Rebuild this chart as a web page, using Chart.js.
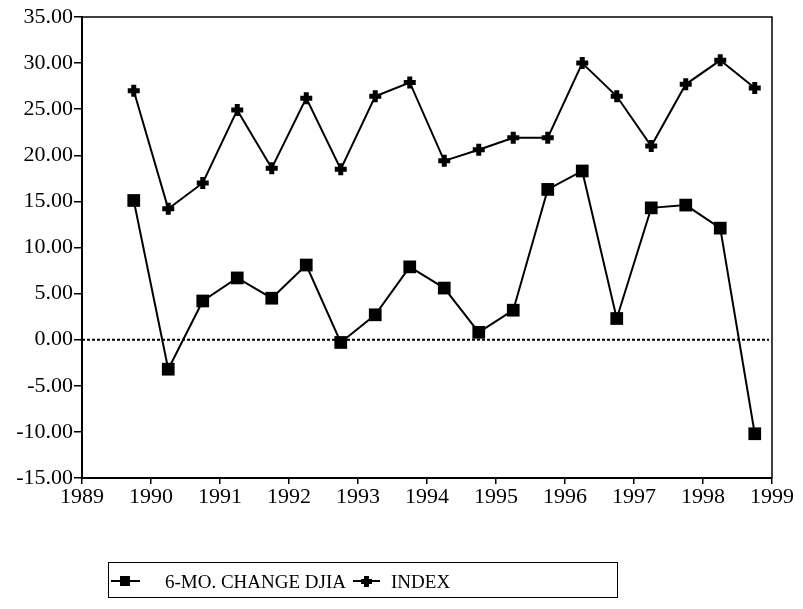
<!DOCTYPE html>
<html>
<head>
<meta charset="utf-8">
<script src="https://cdn.jsdelivr.net/npm/chart.js@4/dist/chart.umd.min.js"></script>
<style>
  html, body { margin: 0; padding: 0; background: #fff; }
  #wrap { position: relative; width: 803px; height: 609px; }
  #legend {
    position: absolute; left: 108px; top: 562px; width: 508px; height: 34px;
    border: 1.5px solid #000; font-family: "Liberation Serif", "DejaVu Serif", serif;
    font-size: 19px; color: #000;
  }
  #legend .item { position: absolute; top: 0; height: 34px; line-height: 37px; white-space: nowrap; }
  #legend svg { position: absolute; top: 10px; }
</style>
</head>
<body>
<div id="wrap">
  <canvas id="chart" width="803" height="609"></canvas>
  <div id="legend">
    <svg style="left:2px" width="30" height="16"><line x1="0" y1="8" x2="29" y2="8" stroke="#000" stroke-width="2"/><rect x="9" y="3" width="10" height="10" fill="#000"/></svg>
    <span class="item" style="left:56px">6-MO. CHANGE DJIA</span>
    <svg style="left:244px" width="28" height="16"><line x1="0" y1="8" x2="27" y2="8" stroke="#000" stroke-width="2"/><path d="M11 3h5v3h3v5h-3v3h-5v-3h-3v-5h3z" fill="#000"/></svg>
    <span class="item" style="left:282px">INDEX</span>
  </div>
</div>
<script>
// half-year observation dates
const dates = [1989.75, 1990.25, 1990.75, 1991.25, 1991.75, 1992.25, 1992.75, 1993.25, 1993.75, 1994.25,
               1994.75, 1995.25, 1995.75, 1996.25, 1996.75, 1997.25, 1997.75, 1998.25, 1998.75];
const djiaChange = [15.1, -3.2, 4.2, 6.7, 4.5, 8.1, -0.3, 2.7, 7.9, 5.6,
                    0.8, 3.2, 16.3, 18.3, 2.3, 14.3, 14.6, 12.1, -10.2];
const indexValues = [27.0, 14.2, 17.0, 24.9, 18.6, 26.2, 18.5, 26.4, 27.9, 19.4,
                     20.6, 21.9, 21.9, 30.0, 26.4, 21.0, 27.7, 30.3, 27.3];
const yTicks = [-15, -10, -5, 0, 5, 10, 15, 20, 25, 30, 35];
const xTicks = [1989, 1990, 1991, 1992, 1993, 1994, 1995, 1996, 1997, 1998, 1999];

const FONT = '"Liberation Serif", "DejaVu Serif", serif';

// frame on top/right plus dotted zero line
const framePlugin = {
  id: 'frame',
  beforeDatasetsDraw(chart) {
    const { ctx, chartArea: a, scales } = chart;
    const y0 = scales.y.getPixelForValue(0);
    ctx.save();
    ctx.strokeStyle = '#000';
    ctx.lineWidth = 2;
    ctx.setLineDash([3, 2]);
    ctx.beginPath();
    ctx.moveTo(a.left, y0);
    ctx.lineTo(a.right - 3, y0);
    ctx.stroke();
    ctx.setLineDash([]);
    ctx.lineWidth = 1.5;
    ctx.beginPath();
    ctx.moveTo(a.left, a.top);
    ctx.lineTo(a.right, a.top);
    ctx.lineTo(a.right, a.bottom);
    ctx.stroke();
    ctx.restore();
  }
};

const ctx = document.getElementById('chart').getContext('2d');
new Chart(ctx, {
  type: 'line',
  data: {
    datasets: [{
      label: '6-MO. CHANGE DJIA',
      data: dates.map((d, i) => ({ x: d, y: djiaChange[i] })),
      borderColor: '#000',
      backgroundColor: '#000',
      borderWidth: 2,
      pointStyle: 'rect',
      pointRadius: 9,
      pointBorderWidth: 0,
      tension: 0
    }, {
      label: 'INDEX',
      data: dates.map((d, i) => ({ x: d, y: indexValues[i] })),
      borderColor: '#000',
      backgroundColor: '#000',
      borderWidth: 2,
      pointStyle: 'cross',
      pointRadius: 6,
      pointBorderWidth: 5,
      tension: 0
    }]
  },
  options: {
    responsive: false,
    animation: false,
    layout: { padding: { top: 17, right: 31, left: 0, bottom: 0 } },
    plugins: {
      legend: { display: false },
      tooltip: { enabled: false }
    },
    scales: {
      x: {
        type: 'linear',
        min: 1989,
        max: 1999,
        afterBuildTicks: (s) => { s.ticks = xTicks.map(v => ({ value: v })); },
        afterFit: (s) => { s.height = 131; },
        ticks: {
          color: '#000',
          font: { family: FONT, size: 22 },
          padding: 0,
          maxRotation: 0,
          callback: (v) => String(v)
        },
        grid: { display: true, drawOnChartArea: false, drawTicks: true, tickLength: 6, color: '#000', lineWidth: 1.5 },
        border: { display: true, color: '#000', width: 2 }
      },
      y: {
        min: -15,
        max: 35,
        afterBuildTicks: (s) => { s.ticks = yTicks.map(v => ({ value: v })); },
        afterFit: (s) => { s.width = 82; },
        ticks: {
          color: '#000',
          font: { family: FONT, size: 22 },
          padding: 1,
          callback: (v) => v.toFixed(2)
        },
        grid: { display: true, drawOnChartArea: false, drawTicks: true, tickLength: 8, color: '#000', lineWidth: 1.5 },
        border: { display: true, color: '#000', width: 2 }
      }
    }
  },
  plugins: [framePlugin]
});
</script>
</body>
</html>
